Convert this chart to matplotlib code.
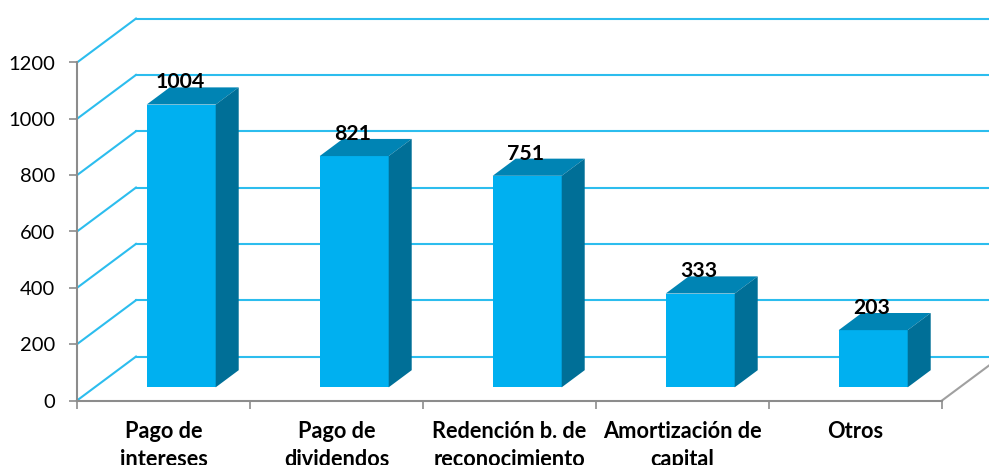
import matplotlib
matplotlib.use("Agg")
import matplotlib.pyplot as plt
from matplotlib.patches import Polygon

categorias = ["Pago de\nintereses", "Pago de\ndividendos", "Redención b. de\nreconocimiento",
              "Amortización de\ncapital", "Otros"]
valores = [1004, 821, 751, 333, 203]
ticks_y = [0, 200, 400, 600, 800, 1000, 1200]

plt.rcParams['font.family'] = ['Lato', 'DejaVu Sans']

fig = plt.figure(figsize=(9.89, 4.65), dpi=100)
ax = fig.add_axes([77 / 989, 64.5 / 465, 865 / 989, 338 / 465])
ax.set_xlim(0, 5)
ax.set_ylim(0, 1200)

# profundidad del falso 3D, en unidades de los ejes
prof_x = 59 / 173
prof_y = 156


def proyecta(x, y, d):
    return (x + d * prof_x, y + d * prof_y)


# lineas de la cuadricula: pared izquierda y pared del fondo
for t in ticks_y:
    x0, y0 = proyecta(0, t, 1)
    ax.plot([0, x0], [t, y0], color="#2cbdee", lw=1.5, clip_on=False, zorder=1)
    ax.plot([x0, 5.3], [y0, y0], color="#2cbdee", lw=1.5, clip_on=False, zorder=1)

# suelo a la derecha
x1, y1 = proyecta(5, 0, 1)
ax.plot([5, x1], [0, y1], color="#a0a0a0", lw=1.5, clip_on=False, zorder=1)

ancho = 69 / 173
d_frente = 0.30
d_fondo = 0.69
for i, v in enumerate(valores):
    izq = i + 0.5 - ancho / 2
    der = i + 0.5 + ancho / 2
    a = proyecta(izq, 0, d_frente)
    b = proyecta(der, 0, d_frente)
    c = proyecta(der, v, d_frente)
    e = proyecta(izq, v, d_frente)
    f = proyecta(izq, v, d_fondo)
    g = proyecta(der, v, d_fondo)
    h = proyecta(der, 0, d_fondo)
    ax.add_patch(Polygon([a, b, c, e], color="#00b0f0", lw=0, clip_on=False, zorder=3))
    ax.add_patch(Polygon([e, c, g, f], color="#0084b4", lw=0, clip_on=False, zorder=3))
    ax.add_patch(Polygon([b, h, g, c], color="#006f97", lw=0, clip_on=False, zorder=3))
    ax.annotate(str(v), xy=((a[0] + b[0]) / 2, e[1]), xytext=(-1, 16), textcoords="offset points",
                ha="center", va="center", fontsize=15.3, fontweight="bold", color="black", zorder=4)

for lado in ["top", "right"]:
    ax.spines[lado].set_visible(False)
for lado in ["left", "bottom"]:
    ax.spines[lado].set_color("#8c8c8c")
    ax.spines[lado].set_linewidth(1.5)
    ax.spines[lado].set_zorder(2)

ax.set_yticks(ticks_y)
ax.tick_params(axis="y", length=6, width=1.2, color="#8c8c8c", labelsize=14.5, pad=10)
ax.set_xticks(range(6))
ax.set_xticklabels([])
ax.tick_params(axis="x", length=6, width=1.2, color="#8c8c8c")

# etiquetas de categoria, la segunda linea se corta con el borde de la figura
for i, c in enumerate(categorias):
    ax.annotate(c, xy=(i + 0.5, 0), xytext=(0, -15), textcoords="offset points", ha="center", va="top",
                fontsize=15.7, fontweight="bold", color="black", linespacing=1.42, annotation_clip=False)

fig.savefig("out.png", dpi=100)
